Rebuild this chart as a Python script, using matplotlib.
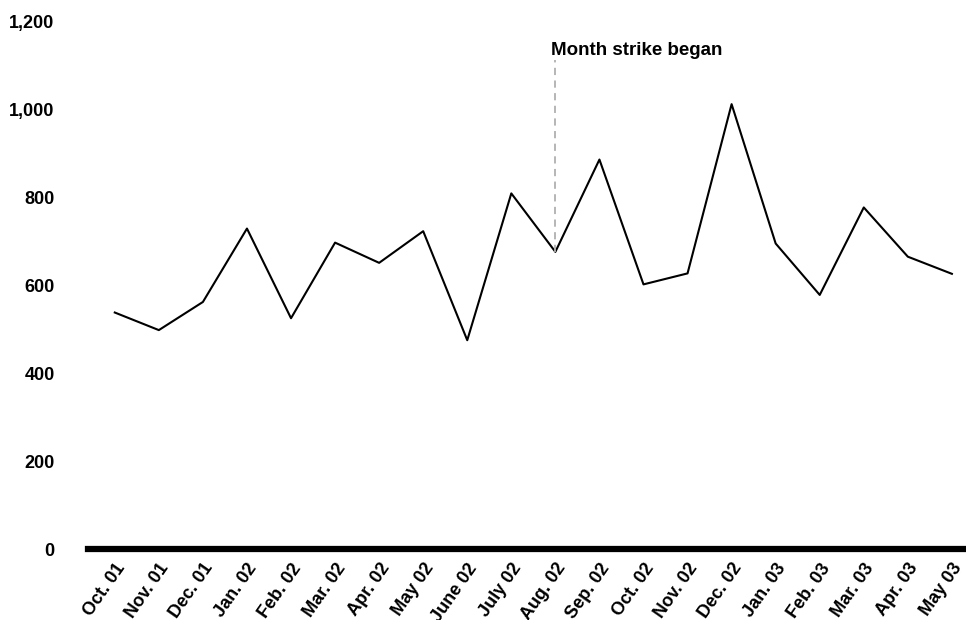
import matplotlib
matplotlib.use("Agg")
import matplotlib.pyplot as plt

plt.rcParams['font.family'] = ['Liberation Sans', 'DejaVu Sans']

months = ['Oct. 01', 'Nov. 01', 'Dec. 01', 'Jan. 02', 'Feb. 02', 'Mar. 02', 'Apr. 02',
          'May 02', 'June 02', 'July 02', 'Aug. 02', 'Sep. 02', 'Oct. 02', 'Nov. 02',
          'Dec. 02', 'Jan. 03', 'Feb. 03', 'Mar. 03', 'Apr. 03', 'May 03']
values = [538, 498, 562, 729, 525, 697, 651, 723, 475, 809, 676, 886,
          602, 627, 1012, 695, 578, 777, 665, 626]
yticks = [0, 200, 400, 600, 800, 1000, 1200]
strike_month = 'Aug. 02'
strike_label = 'Month strike began'

fig = plt.figure(figsize=(9.66, 6.2), dpi=100)
ax = fig.add_axes([0.091, 0.1145, 0.909, 0.8508])

x = list(range(len(months)))
ax.plot(x, values, color='black', linewidth=1.5)

# marker for the strike
si = months.index(strike_month)
ax.plot([si, si], [values[si], 1112], color='#b0b0b0', linestyle=(0, (4, 3)), linewidth=1.3)
ax.text(si - 0.09, 1114, strike_label, fontsize=13.5, fontweight='bold',
        ha='left', va='bottom')

ax.set_xlim(-0.61, 19.32)
ax.set_ylim(0, 1200)
ax.set_xticks(x)
ax.set_xticklabels(months, rotation=55, ha='right', rotation_mode='anchor',
                   fontsize=13, fontweight='bold')
ax.set_yticks(yticks)
ax.set_yticklabels([f'{v:,}' for v in yticks], fontsize=13, fontweight='bold')
ax.tick_params(axis='both', length=0)
ax.tick_params(axis='y', pad=24)
ax.tick_params(axis='x', pad=8)

for s in ['top', 'right', 'left']:
    ax.spines[s].set_visible(False)
ax.spines['bottom'].set_linewidth(4.5)
ax.spines['bottom'].set_color('black')

fig.savefig('out.png', dpi=100)
